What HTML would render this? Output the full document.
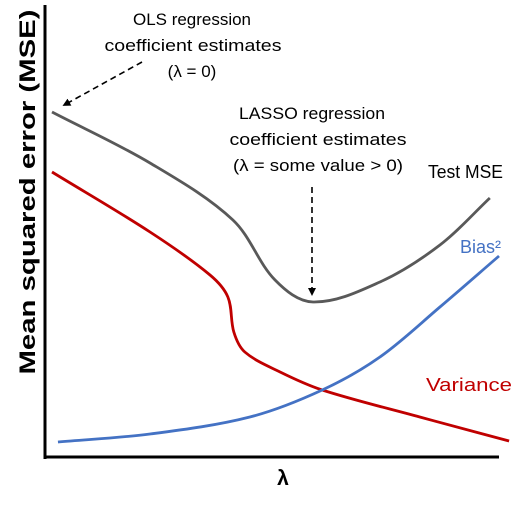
<!DOCTYPE html>
<html><head><meta charset="utf-8"><style>
html,body{margin:0;padding:0;background:#fff;width:532px;height:505px;overflow:hidden}
svg{display:block;font-family:"Liberation Sans",sans-serif}
</style></head><body>
<svg id="chart" width="532" height="505">
<defs><marker id="ah" markerWidth="8" markerHeight="8" refX="4" refY="4" orient="auto" markerUnits="userSpaceOnUse"><path d="M0,0 L8,4 L0,8 z" fill="#000"/></marker></defs>
<line x1="45" y1="5" x2="45" y2="459" stroke="#000" stroke-width="3"/>
<line x1="44" y1="457" x2="499" y2="457" stroke="#000" stroke-width="3"/>
<text x="283" y="485" font-size="21" font-weight="bold" text-anchor="middle">λ</text>
<text transform="translate(35,192) rotate(-90)" font-size="22" font-weight="bold" text-anchor="middle" textLength="365" lengthAdjust="spacingAndGlyphs">Mean squared error (MSE)</text>
<g font-size="17" text-anchor="middle" fill="#000">
<text x="192" y="25" textLength="118" lengthAdjust="spacingAndGlyphs">OLS regression</text><text x="193" y="51" textLength="177" lengthAdjust="spacingAndGlyphs">coefficient estimates</text><text x="192" y="77">(λ = 0)</text></g>
<line x1="142" y1="62" x2="66" y2="104" stroke="#000" stroke-width="1.6" stroke-dasharray="6,4" marker-end="url(#ah)"/>
<g font-size="17" text-anchor="middle" fill="#000">
<text x="312" y="119" textLength="146" lengthAdjust="spacingAndGlyphs">LASSO regression</text><text x="318" y="145" textLength="177" lengthAdjust="spacingAndGlyphs">coefficient estimates</text><text x="318" y="171" textLength="170" lengthAdjust="spacingAndGlyphs">(λ = some value &gt; 0)</text></g>
<line x1="312" y1="187" x2="312" y2="292" stroke="#000" stroke-width="1.6" stroke-dasharray="6,4" marker-end="url(#ah)"/>
<text x="428" y="178" font-size="18" fill="#000" textLength="75" lengthAdjust="spacingAndGlyphs">Test MSE</text>
<text x="460" y="253" font-size="18" fill="#4472c4">Bias²</text>
<text x="426" y="391" font-size="18" fill="#c00000" textLength="86" lengthAdjust="spacingAndGlyphs">Variance</text>
</svg>
<script>
const mseLambda=[0,2.14,3.95,4.87,5.7,7.16,8.47,9.56];
const mseValues=[345,294,237,177,155,175,212,259];
const varLambda=[0,2.14,3.45,3.84,3.97,4.21,4.98,5.9,8.03,9.98];
const varValues=[285,225,182,160,125,105,85,67,40,16];
const biasLambda=[0.13,2.14,4.32,5.9,7.16,8.47,9.76];
const biasValues=[15,23,40,67,100,150,201];
const svg=document.getElementById('chart');
const xs=l=>52+l*45.8;
const ys=v=>457-v;
function path(L,V){const p=L.map((l,i)=>[xs(l),ys(V[i])]);let d='M'+p[0][0]+','+p[0][1];
for(let i=0;i<p.length-1;i++){const p0=p[Math.max(0,i-1)],p1=p[i],p2=p[i+1],p3=p[Math.min(p.length-1,i+2)];
const d1=Math.hypot(p2[0]-p1[0],p2[1]-p1[1]);
const a=Math.hypot(p2[0]-p0[0],p2[1]-p0[1])||1,b=Math.hypot(p3[0]-p1[0],p3[1]-p1[1])||1;
const k1=d1/a/3,k2=d1/b/3;
d+=' C'+(p1[0]+(p2[0]-p0[0])*k1)+','+(p1[1]+(p2[1]-p0[1])*k1)+' '+(p2[0]-(p3[0]-p1[0])*k2)+','+(p2[1]-(p3[1]-p1[1])*k2)+' '+p2[0]+','+p2[1];}return d;}
function draw(L,V,c,n){const e=document.createElementNS('http://www.w3.org/2000/svg','path');
e.setAttribute('d',path(L,V));e.setAttribute('fill','none');e.setAttribute('stroke',c);e.setAttribute('stroke-width','2.8');


svg.appendChild(e);}
draw(mseLambda,mseValues,'#595959','test-mse-line');
draw(varLambda,varValues,'#c00000','variance-line');
draw(biasLambda,biasValues,'#4472c4','bias-line');
</script>
</body></html>
